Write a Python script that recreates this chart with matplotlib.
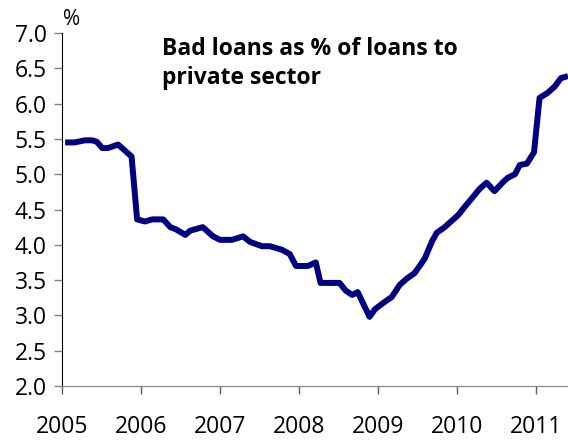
import matplotlib.pyplot as plt

# bad loans ratio (year, %)
years = [2005.04, 2005.16, 2005.29, 2005.38, 2005.44, 2005.51, 2005.58, 2005.71,
         2005.80, 2005.88, 2005.95, 2006.05, 2006.14, 2006.28, 2006.37, 2006.44,
         2006.56, 2006.62, 2006.78, 2006.91, 2007.00, 2007.15, 2007.29, 2007.38,
         2007.53, 2007.63, 2007.78, 2007.88, 2007.96, 2008.11, 2008.21, 2008.27,
         2008.51, 2008.59, 2008.67, 2008.74, 2008.89, 2008.96, 2009.08, 2009.17,
         2009.27, 2009.36, 2009.46, 2009.53, 2009.59, 2009.68, 2009.74, 2009.84,
         2010.01, 2010.11, 2010.20, 2010.28, 2010.37, 2010.47, 2010.58, 2010.64,
         2010.73, 2010.79, 2010.88, 2010.97, 2011.04, 2011.14, 2011.23, 2011.31,
         2011.40]
bad_loans = [5.45, 5.45, 5.48, 5.48, 5.46, 5.37, 5.37, 5.42,
             5.33, 5.25, 4.36, 4.33, 4.36, 4.36, 4.25, 4.22,
             4.14, 4.20, 4.25, 4.12, 4.07, 4.07, 4.12, 4.04,
             3.98, 3.98, 3.93, 3.87, 3.70, 3.70, 3.75, 3.46,
             3.46, 3.35, 3.29, 3.33, 2.98, 3.09, 3.19, 3.26,
             3.43, 3.52, 3.60, 3.71, 3.81, 4.05, 4.17, 4.25,
             4.42, 4.56, 4.68, 4.79, 4.88, 4.76, 4.89, 4.95,
             5.00, 5.13, 5.15, 5.31, 6.08, 6.15, 6.24, 6.36,
             6.39]

year_ticks = [2005, 2006, 2007, 2008, 2009, 2010, 2011]
value_ticks = [2.0, 2.5, 3.0, 3.5, 4.0, 4.5, 5.0, 5.5, 6.0, 6.5, 7.0]

plt.rcParams['font.family'] = ['Open Sans', 'DejaVu Sans']

fig = plt.figure(figsize=(5.68, 4.41), dpi=100)
ax = fig.add_axes([62 / 568, 1 - 386 / 441, 1 - 62 / 568, (386 - 33) / 441])

ax.plot(years, bad_loans, color='#000080', linewidth=4.3, solid_joinstyle='round',
        solid_capstyle='butt', clip_on=False)

ax.set_xlim(2005, 2011.40)
ax.set_ylim(2.0, 7.0)
ax.set_xticks(year_ticks)
ax.set_xticklabels([str(y) for y in year_ticks])
ax.set_yticks(value_ticks)
ax.set_yticklabels(['%.1f' % v for v in value_ticks])

ax.spines['top'].set_visible(False)
ax.spines['right'].set_visible(False)
ax.spines['left'].set_color('black')
ax.spines['bottom'].set_color('#808080')
ax.tick_params(axis='y', direction='out', length=6, width=1, color='#808080',
               labelsize=16.5, pad=5)
ax.tick_params(axis='x', direction='out', length=6, width=1, color='#606060',
               labelsize=16.5, pad=15)

ax.text(0.002, 1.023, '%', transform=ax.transAxes, fontsize=15, ha='left', va='baseline')
ax.text(100 / 506, 0.988, 'Bad loans as % of loans to\nprivate sector', transform=ax.transAxes,
        fontsize=16.5, fontweight='bold', ha='left', va='top', linespacing=1.25)

fig.savefig('out.png', dpi=100)
